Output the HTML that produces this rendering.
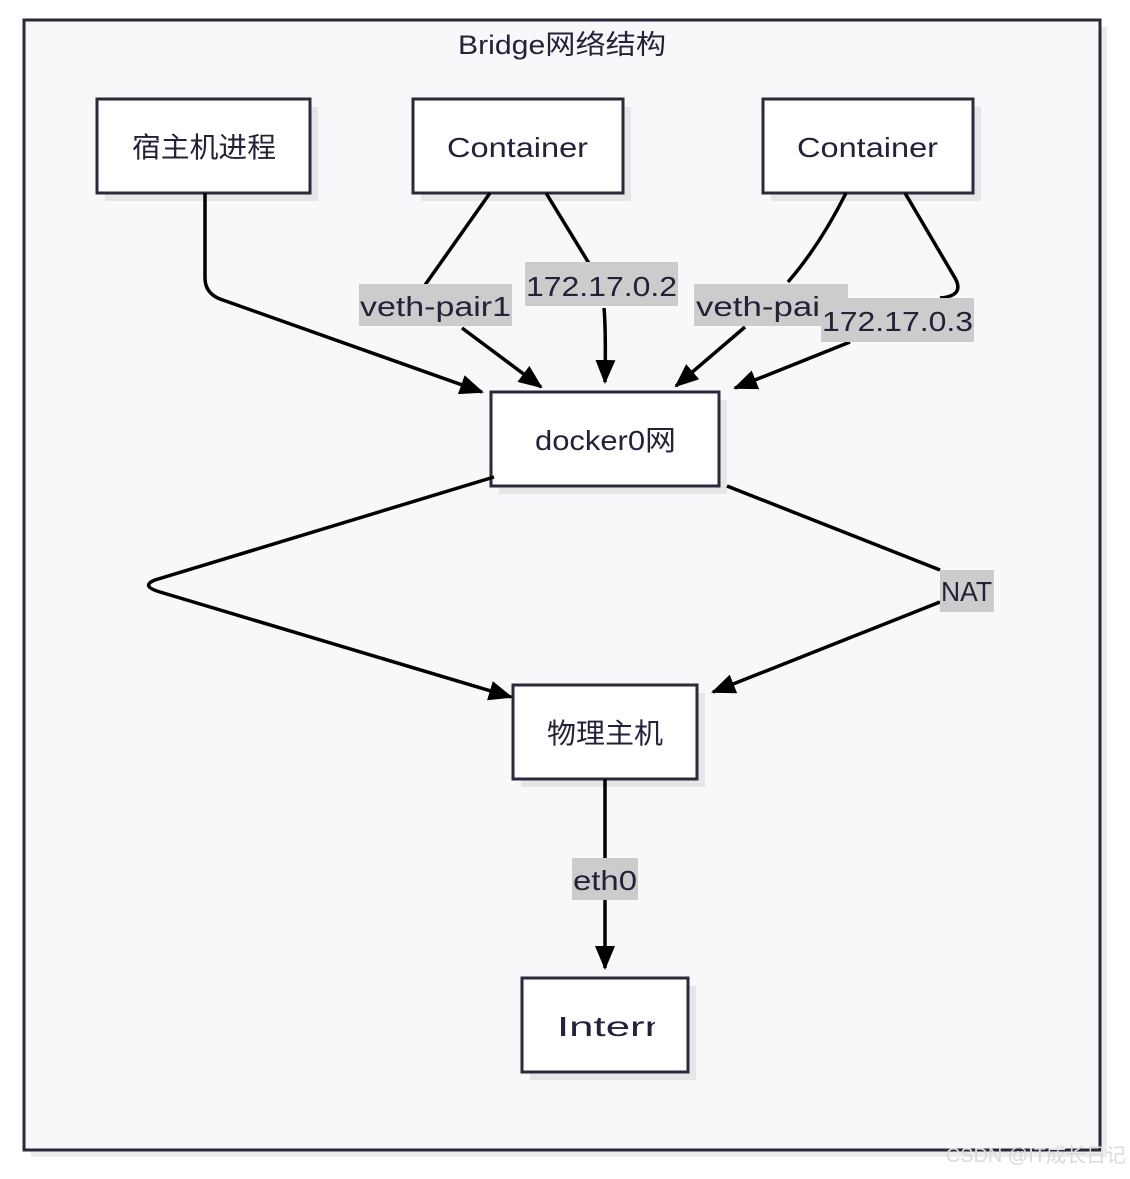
<!DOCTYPE html>
<html><head><meta charset="utf-8"><style>
html,body{margin:0;padding:0;background:#fff}
svg text{font-family:"Liberation Sans","Noto Sans CJK SC",sans-serif;fill:#222238}
</style></head><body>
<svg width="1130" height="1174" viewBox="0 0 1130 1174" xmlns="http://www.w3.org/2000/svg">
<defs><marker id="b" markerWidth="24" markerHeight="24" refX="22" refY="12" orient="auto" markerUnits="userSpaceOnUse" viewBox="0 0 24 24"><path d="M0,2 L24,12 L0,22 z" fill="#000"/></marker></defs>
<rect x="31" y="27" width="1076" height="1130" fill="#ececee"/>
<rect x="24" y="20" width="1076" height="1130" fill="#f8f8fa" stroke="#2a2a3a" stroke-width="3"/>
<text x="458" y="54" font-size="27" textLength="208" lengthAdjust="spacingAndGlyphs">Bridge网络结构</text>
<g fill="#e6e6e8">
<rect x="105" y="107" width="213" height="94"/><rect x="421" y="107" width="210" height="94"/><rect x="771" y="107" width="210" height="94"/>
<rect x="499" y="400" width="228" height="94"/><rect x="521" y="693" width="184" height="94"/><rect x="530" y="986" width="166" height="94"/></g>
<g fill="#fff" stroke="#2a2a3a" stroke-width="3">
<rect x="97" y="99" width="213" height="94"/><rect x="413" y="99" width="210" height="94"/><rect x="763" y="99" width="210" height="94"/>
<rect x="491" y="392" width="228" height="94"/><rect x="513" y="685" width="184" height="94"/><rect x="522" y="978" width="166" height="94"/></g>
<g font-size="28">
<text x="132" y="157" textLength="144" lengthAdjust="spacingAndGlyphs">宿主机进程</text>
<text x="447" y="157" textLength="141" lengthAdjust="spacingAndGlyphs">Container</text>
<text x="797" y="157" textLength="141" lengthAdjust="spacingAndGlyphs">Container</text>
<text x="535" y="450" textLength="141" lengthAdjust="spacingAndGlyphs">docker0网</text>
<text x="547" y="743" textLength="116" lengthAdjust="spacingAndGlyphs">物理主机</text>
<text x="557" y="1036" textLength="112" lengthAdjust="spacingAndGlyphs">Intern</text></g>
<rect x="655" y="1005" width="31" height="40" fill="#fff"/>
<g fill="none" stroke="#000" stroke-width="3.5" marker-end="url(#b)">
<path d="M205,193 L205,278 Q205,293 220,299 L482,392"/>
<path d="M490,193 L425,285 M462,328 L541,387"/>
<path d="M546,193 L590,265 M604,308 Q606,330 605,382"/>
<path d="M846,193 Q820,245 788,282 M745,327 L676,386"/>
<path d="M905,193 L955,278 Q965,296 940,298 M850,342 L735,388"/>
<path d="M494,477 L155,580 Q140,586 160,592 L511,697"/>
<path d="M727,486 L940,570 M940,602 L713,692"/>
<path d="M605,779 L605,968"/>
</g>
<g fill="#cccccc"><rect x="359" y="284" width="153" height="42"/><rect x="525" y="262" width="153" height="44"/><rect x="694" y="284" width="154" height="42"/><rect x="821" y="298" width="153" height="44"/><rect x="940" y="570" width="54" height="42"/><rect x="572" y="858" width="66" height="42"/></g>
<g font-size="28">
<text x="360" y="316" textLength="151" lengthAdjust="spacingAndGlyphs">veth-pair1</text>
<text x="526" y="296" textLength="151" lengthAdjust="spacingAndGlyphs">172.17.0.2</text>
<text x="696" y="316" textLength="124" lengthAdjust="spacingAndGlyphs">veth-pai</text>
<text x="822" y="331" textLength="151" lengthAdjust="spacingAndGlyphs">172.17.0.3</text>
<text x="941" y="601" textLength="51" lengthAdjust="spacingAndGlyphs">NAT</text>
<text x="573" y="890" textLength="64" lengthAdjust="spacingAndGlyphs">eth0</text></g>
<text x="1126" y="1162" font-size="20" text-anchor="end" style="fill:#dadada">CSDN @IT成长日记</text>
</svg>
</body></html>
